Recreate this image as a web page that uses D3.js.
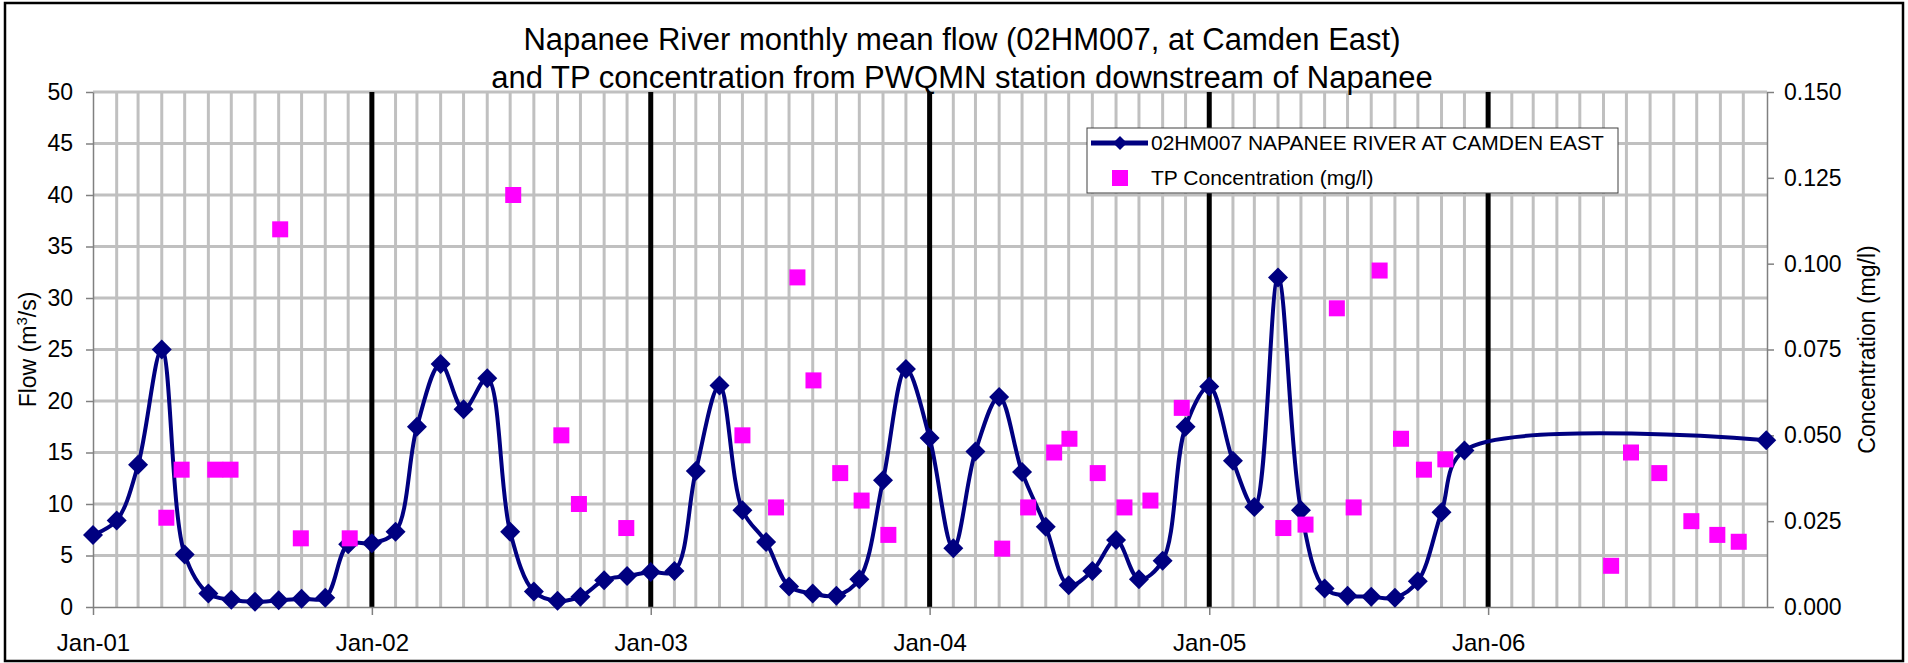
<!DOCTYPE html>
<html>
<head>
<meta charset="utf-8">
<script src="https://cdn.jsdelivr.net/npm/d3@7"></script>
<style>
  body { margin: 0; background: #fff; }
  svg text { font-family: "Liberation Sans", Arial, sans-serif; fill: #000; }
</style>
</head>
<body>
<div id="chartContainer"></div>
<script>
// monthly mean flow, 02HM007 (m3/s)
const flowDates = [
  "2001-01-01","2001-02-01","2001-03-01","2001-04-01","2001-05-01","2001-06-01","2001-07-01","2001-08-01","2001-09-01","2001-10-01","2001-11-01","2001-12-01",
  "2002-01-01","2002-02-01","2002-03-01","2002-04-01","2002-05-01","2002-06-01","2002-07-01","2002-08-01","2002-09-01","2002-10-01","2002-11-01","2002-12-01",
  "2003-01-01","2003-02-01","2003-03-01","2003-04-01","2003-05-01","2003-06-01","2003-07-01","2003-08-01","2003-09-01","2003-10-01","2003-11-01","2003-12-01",
  "2004-01-01","2004-02-01","2004-03-01","2004-04-01","2004-05-01","2004-06-01","2004-07-01","2004-08-01","2004-09-01","2004-10-01","2004-11-01","2004-12-01",
  "2005-01-01","2005-02-01","2005-03-01","2005-04-01","2005-05-01","2005-06-01","2005-07-01","2005-08-01","2005-09-01","2005-10-01","2005-11-01","2005-12-01",
  "2006-12-31"
];
const flowValues = [
  7.0, 8.4, 13.8, 25.0, 5.1, 1.3, 0.7, 0.5, 0.65, 0.8, 0.9, 6.1,
  6.2, 7.3, 17.5, 23.6, 19.2, 22.2, 7.3, 1.5, 0.6, 1.0, 2.6, 3.0,
  3.4, 3.5, 13.2, 21.5, 9.4, 6.3, 2.0, 1.3, 1.1, 2.7, 12.3, 23.1,
  16.4, 5.7, 15.1, 20.4, 13.1, 7.8, 2.1, 3.5, 6.5, 2.7, 4.5, 17.5,
  21.4, 14.2, 9.7, 32.0, 9.4, 1.8, 1.1, 1.0, 0.9, 2.5, 9.2, 15.2,
  16.2
];

// TP samples, PWQMN station downstream of Napanee (mg/l)
const tpDates = [
  "2001-04-07","2001-04-27","2001-06-10","2001-06-30","2001-09-03","2001-09-30","2001-12-03",
  "2002-07-05","2002-09-06","2002-09-29","2002-11-30",
  "2003-05-01","2003-06-14","2003-07-12","2003-08-02","2003-09-06","2003-10-04","2003-11-08",
  "2004-04-05","2004-05-09","2004-06-12","2004-07-02","2004-08-08","2004-09-12","2004-10-16","2004-11-26",
  "2005-04-08","2005-05-07","2005-06-17","2005-07-09","2005-08-12","2005-09-09","2005-10-09","2005-11-06",
  "2006-06-11","2006-07-07","2006-08-13","2006-09-24","2006-10-28","2006-11-25"
];
const tpValues = [
  0.026, 0.040, 0.040, 0.040, 0.110, 0.020, 0.020,
  0.120, 0.050, 0.030, 0.023,
  0.050, 0.029, 0.096, 0.066, 0.039, 0.031, 0.021,
  0.017, 0.029, 0.045, 0.049, 0.039, 0.029, 0.031, 0.058,
  0.023, 0.024, 0.087, 0.029, 0.098, 0.049, 0.040, 0.043,
  0.012, 0.045, 0.039, 0.025, 0.021, 0.019
];

const flowTicks = [0, 5, 10, 15, 20, 25, 30, 35, 40, 45, 50];
const tpTicks = [0, 0.025, 0.05, 0.075, 0.1, 0.125, 0.15];
const yearTicks = ["2001-01-01","2002-01-01","2003-01-01","2004-01-01","2005-01-01","2006-01-01"];

const titleLines = [
  "Napanee River monthly mean flow (02HM007, at Camden East)",
  "and TP concentration from PWQMN station downstream of Napanee"
];
const seriesNames = ["02HM007 NAPANEE RIVER AT CAMDEN EAST", "TP Concentration (mg/l)"];

const parse = d3.timeParse("%Y-%m-%d");
const flowData = flowDates.map((d, i) => ({ date: parse(d), value: flowValues[i] }));
const tpData = tpDates.map((d, i) => ({ date: parse(d), value: tpValues[i] }));

const width = 1908;
const height = 663;
const plot = { left: 93, right: 1767, top: 92, bottom: 607 };

const svg = d3.select("#chartContainer")
  .append("svg")
  .attr("width", width)
  .attr("height", height);

svg.append("rect")
  .attr("x", 5).attr("y", 3)
  .attr("width", 1898).attr("height", 658)
  .attr("fill", "#fff")
  .attr("stroke", "#000")
  .attr("stroke-width", 2.5);

const xScale = d3.scaleTime()
  .domain([new Date(2001, 0, 1), new Date(2007, 0, 1)])
  .range([plot.left, plot.right]);
const yFlow = d3.scaleLinear().domain([0, 50]).range([plot.bottom, plot.top]);
const yTP = d3.scaleLinear().domain([0, 0.15]).range([plot.bottom, plot.top]);

// grid: months (grey), flow ticks (grey), years (black)
svg.append("g")
  .selectAll("line")
  .data(d3.timeMonth.range(new Date(2001, 1, 1), new Date(2007, 0, 1)))
  .enter()
  .append("line")
  .attr("x1", d => xScale(d)).attr("x2", d => xScale(d))
  .attr("y1", plot.top).attr("y2", plot.bottom)
  .attr("stroke", "#c0c0c0")
  .attr("stroke-width", 3);

svg.append("g")
  .selectAll("line")
  .data(flowTicks.slice(1))
  .enter()
  .append("line")
  .attr("x1", plot.left).attr("x2", plot.right)
  .attr("y1", d => yFlow(d)).attr("y2", d => yFlow(d))
  .attr("stroke", "#c0c0c0")
  .attr("stroke-width", 3);

svg.append("g")
  .selectAll("line")
  .data(yearTicks.slice(1).map(parse))
  .enter()
  .append("line")
  .attr("x1", d => xScale(d)).attr("x2", d => xScale(d))
  .attr("y1", plot.top).attr("y2", plot.bottom)
  .attr("stroke", "#000")
  .attr("stroke-width", 5);

// axes
const leftAxis = svg.append("g")
  .attr("transform", `translate(${plot.left},0)`)
  .call(d3.axisLeft(yFlow).tickValues(flowTicks).tickSize(7).tickPadding(13).tickSizeOuter(0));

const rightAxis = svg.append("g")
  .attr("transform", `translate(${plot.right},0)`)
  .call(d3.axisRight(yTP).tickValues(tpTicks).tickSize(7).tickPadding(10).tickSizeOuter(0).tickFormat(d3.format(".3f")));

const bottomAxis = svg.append("g")
  .attr("transform", `translate(0,${plot.bottom})`)
  .call(d3.axisBottom(xScale).tickValues(yearTicks.map(parse)).tickSize(8).tickPadding(19).tickSizeOuter(0).tickFormat(d3.timeFormat("%b-%y")));

[leftAxis, rightAxis, bottomAxis].forEach(a => {
  a.select(".domain").attr("stroke", "#808080").attr("stroke-width", 1.5);
  a.selectAll(".tick line").attr("stroke", "#808080").attr("stroke-width", 1.5);
  a.selectAll("text").attr("font-size", "23px").attr("fill", "#000");
});
bottomAxis.selectAll("text").attr("font-size", "24px");

// flow line
const line = d3.line()
  .x(d => xScale(d.date))
  .y(d => yFlow(d.value))
  .curve(d3.curveCatmullRom.alpha(0.5));

svg.append("path")
  .datum(flowData)
  .attr("d", line)
  .attr("fill", "none")
  .attr("stroke", "#000080")
  .attr("stroke-width", 4)
  .attr("stroke-linejoin", "round");

const diamond = r => `M0,${-r}L${r},0L0,${r}L${-r},0Z`;

svg.append("g")
  .selectAll("path")
  .data(flowData)
  .enter()
  .append("path")
  .attr("d", diamond(10))
  .attr("transform", d => `translate(${xScale(d.date)},${yFlow(d.value)})`)
  .attr("fill", "#000080");

// TP squares
svg.append("g")
  .selectAll("rect")
  .data(tpData)
  .enter()
  .append("rect")
  .attr("x", d => xScale(d.date) - 8)
  .attr("y", d => yTP(d.value) - 8)
  .attr("width", 16)
  .attr("height", 16)
  .attr("fill", "#ff00ff");

// titles
svg.append("g")
  .selectAll("text")
  .data(titleLines)
  .enter()
  .append("text")
  .attr("x", 962)
  .attr("y", (d, i) => 50 + i * 38)
  .attr("text-anchor", "middle")
  .attr("font-size", "31px")
  .text(d => d);

const flowTitle = svg.append("text")
  .attr("transform", `translate(36,${(plot.top + plot.bottom) / 2}) rotate(-90)`)
  .attr("text-anchor", "middle")
  .attr("font-size", "23px");
flowTitle.append("tspan").text("Flow (m");
flowTitle.append("tspan").attr("font-size", "15px").attr("dy", "-9").text("3");
flowTitle.append("tspan").attr("dy", "9").text("/s)");

svg.append("text")
  .attr("transform", `translate(1875,${(plot.top + plot.bottom) / 2}) rotate(-90)`)
  .attr("text-anchor", "middle")
  .attr("font-size", "23px")
  .text("Concentration (mg/l)");

// legend
const legend = svg.append("g").attr("transform", "translate(1087,128)");

legend.append("rect")
  .attr("width", 531)
  .attr("height", 65)
  .attr("fill", "#fff")
  .attr("stroke", "#404040")
  .attr("stroke-width", 1);

legend.append("line")
  .attr("x1", 4).attr("x2", 61)
  .attr("y1", 15).attr("y2", 15)
  .attr("stroke", "#000080")
  .attr("stroke-width", 5);
legend.append("path")
  .attr("d", diamond(7))
  .attr("transform", "translate(33,15)")
  .attr("fill", "#000080");
legend.append("rect")
  .attr("x", 25).attr("y", 42)
  .attr("width", 16).attr("height", 16)
  .attr("fill", "#ff00ff");

legend.selectAll(".legend-text")
  .data(seriesNames)
  .enter()
  .append("text")
  .attr("class", "legend-text")
  .attr("x", 64)
  .attr("y", (d, i) => 15 + i * 35)
  .attr("dy", "0.35em")
  .attr("font-size", "21px")
  .text(d => d);
</script>
</body>
</html>
